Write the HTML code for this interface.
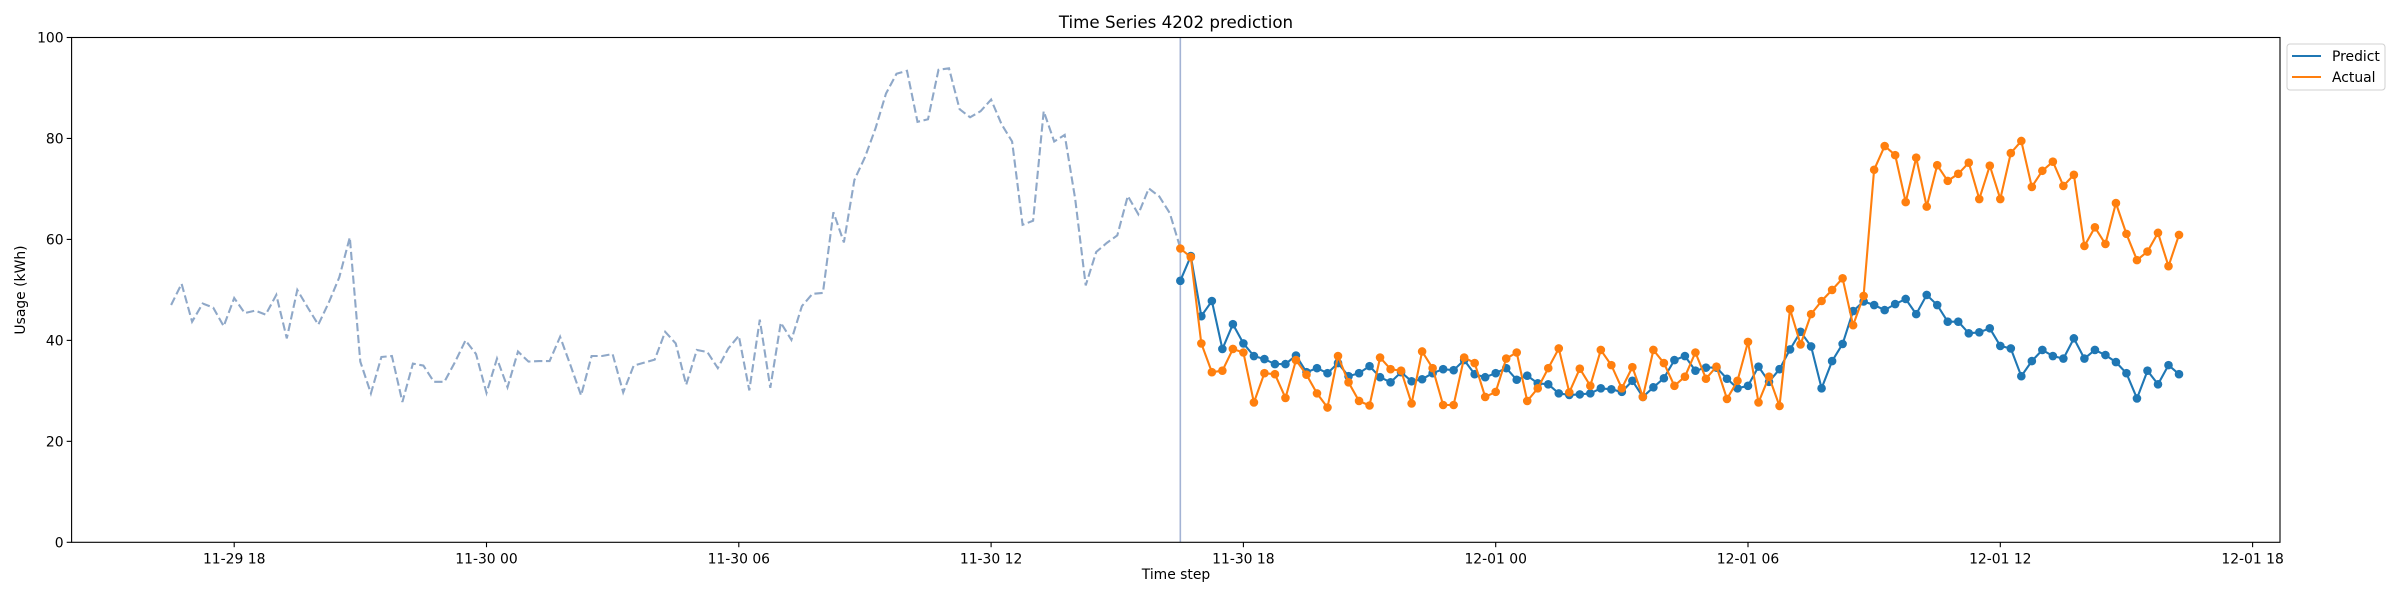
<!DOCTYPE html>
<html><head><meta charset="utf-8"><style>
html,body{margin:0;padding:0;background:#fff;}
svg{display:block;font-family:"DejaVu Sans","Liberation Sans",sans-serif;}
</style></head><body>
<svg id="chart" width="2400" height="600" viewBox="0 0 2400 600" xmlns="http://www.w3.org/2000/svg">
<rect width="2400" height="600" fill="#fff"/>
<text x="1176" y="28" font-size="16.7" text-anchor="middle" fill="#000">Time Series 4202 prediction</text>
<text x="1176" y="579" font-size="13.9" text-anchor="middle" fill="#000">Time step</text>
<text x="0" y="0" font-size="13.9" text-anchor="middle" fill="#000" transform="translate(25,290) rotate(-90)">Usage (kWh)</text>
<g id="plot"></g>
<g>
<rect x="2287" y="44" width="98" height="46" rx="3" fill="#fff" stroke="#d0d0d0" stroke-width="1"/>
<line x1="2292" y1="56" x2="2321" y2="56" stroke="#1f77b4" stroke-width="2.1"/>
<text x="2332" y="61" font-size="13.9">Predict</text>
<line x1="2292" y1="77" x2="2321" y2="77" stroke="#ff7f0e" stroke-width="2.1"/>
<text x="2332" y="82" font-size="13.9">Actual</text>
</g>
</svg>
<script>
const historyValues=[47.0,51.2,43.7,47.3,46.5,42.8,48.4,45.4,45.9,45.1,49.0,40.4,50.0,46.5,43.1,47.5,52.5,60.4,35.8,29.5,36.7,36.9,27.8,35.4,35.0,31.8,31.8,35.7,40.0,37.3,29.6,36.4,30.7,37.8,35.8,35.9,35.9,40.7,35.0,29.1,36.9,36.9,37.3,29.7,35.0,35.6,36.2,41.7,39.4,31.2,38.1,37.7,34.5,38.4,40.9,30.1,44.1,30.6,43.5,40.1,46.8,49.2,49.4,65.4,59.4,71.8,76.3,82.0,88.9,92.8,93.4,83.3,83.8,93.6,93.9,85.8,84.2,85.4,87.7,82.8,79.4,62.9,63.7,85.4,79.4,80.7,68.0,50.9,57.5,59.3,60.8,68.6,65.0,70.1,68.5,65.2,58.3];
const predictValues=[51.8,56.7,44.8,47.8,38.3,43.2,39.4,36.9,36.3,35.3,35.3,37.0,33.7,34.5,33.5,35.5,32.9,33.5,34.9,32.7,31.7,33.7,31.9,32.3,33.5,34.3,34.1,36.1,33.3,32.7,33.5,34.5,32.2,33.0,31.5,31.3,29.5,29.2,29.3,29.5,30.5,30.3,29.8,32.0,28.8,30.7,32.5,36.1,36.9,34.0,34.6,34.6,32.4,30.5,31.0,34.8,31.8,34.3,38.2,41.7,38.8,30.5,35.9,39.3,45.8,47.7,47.0,46.0,47.2,48.2,45.2,49.0,47.0,43.7,43.7,41.4,41.6,42.4,38.9,38.4,32.9,35.9,38.1,36.9,36.4,40.4,36.4,38.1,37.1,35.7,33.5,28.5,34.0,31.3,35.1,33.3];
const actualValues=[58.2,56.5,39.4,33.7,34.0,38.3,37.6,27.7,33.5,33.3,28.6,36.1,33.2,29.5,26.7,36.9,31.7,28.0,27.1,36.6,34.3,34.0,27.5,37.8,34.5,27.2,27.2,36.6,35.5,28.8,29.8,36.4,37.6,28.0,30.5,34.5,38.4,29.7,34.4,31.0,38.1,35.1,30.5,34.7,28.8,38.1,35.5,31.0,32.8,37.6,32.4,34.8,28.4,32.0,39.7,27.7,32.8,27.0,46.2,39.2,45.2,47.8,50.0,52.3,43.0,48.8,73.8,78.5,76.7,67.4,76.2,66.5,74.7,71.6,73.0,75.2,68.0,74.6,68.0,77.1,79.5,70.4,73.6,75.4,70.6,72.8,58.7,62.4,59.1,67.2,61.1,55.9,57.6,61.3,54.7,60.9];
const xTickLabels=["11-29 18","11-30 00","11-30 06","11-30 12","11-30 18","12-01 00","12-01 06","12-01 12","12-01 18"];
const yTickLabels=[0,20,40,60,80,100];
const historyStartHour=-1.5;
const forecastStartHour=22.5;
const stepHours=0.25;

const L=71.6,R=2280,T=37.5,B=542.3;
const H0=234.2,PXH=42.05;
function xs(h){return H0+PXH*h;}
function ys(v){return B-(B-T)*v/100;}
const NS="http://www.w3.org/2000/svg";
const plot=document.getElementById('plot');
function mk(tag,attrs,parent){const e=document.createElementNS(NS,tag);for(const k in attrs)e.setAttribute(k,attrs[k]);(parent||plot).appendChild(e);return e;}

yTickLabels.forEach(function(v){
  const t=mk('line',{x1:L-4.9,x2:L,y1:ys(v),y2:ys(v),stroke:'#000','stroke-width':1.1});
  
  
  const tx=mk('text',{x:L-8,y:ys(v)+5,'font-size':13.9,'text-anchor':'end'});
  tx.textContent=v;
  
  
});
xTickLabels.forEach(function(lab,i){
  const x=xs(i*6);
  const t=mk('line',{x1:x,x2:x,y1:B,y2:B+4.9,stroke:'#000','stroke-width':1.1});
  
  
  const tx=mk('text',{x:x,y:B+21,'font-size':13.9,'text-anchor':'middle'});
  tx.textContent=lab;
  
  
});

let hp=historyValues.map(function(v,i){return xs(historyStartHour+i*stepHours).toFixed(1)+','+ys(v).toFixed(1);}).join(' ');
const hl=mk('polyline',{points:hp,fill:'none',stroke:'#8fa8c8','stroke-width':2.1,'stroke-dasharray':'8.3,3.6'});



const vx=xs(forecastStartHour);
const vl=mk('line',{x1:vx,x2:vx,y1:T,y2:B,stroke:'#a3b3d4','stroke-width':1.6});



function series(vals,color,name){
  const pts=vals.map(function(v,i){return xs(forecastStartHour+i*stepHours).toFixed(1)+','+ys(v).toFixed(1);}).join(' ');
  const pl=mk('polyline',{points:pts,fill:'none',stroke:color,'stroke-width':2.1});
  
  
  vals.forEach(function(v,i){
    const c=mk('circle',{cx:xs(forecastStartHour+i*stepHours),cy:ys(v),r:4.3,fill:color});
    
    
  });
}
series(predictValues,'#1f77b4','predict');
series(actualValues,'#ff7f0e','actual');

const fr=mk('rect',{x:L,y:T,width:R-L,height:B-T,fill:'none',stroke:'#000','stroke-width':1.1});


</script>
</body></html>
